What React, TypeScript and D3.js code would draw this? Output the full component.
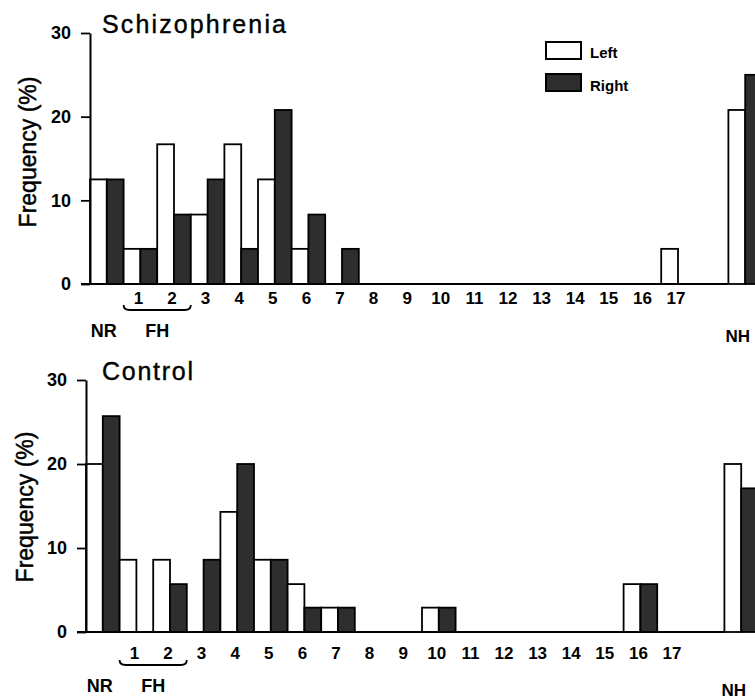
import React, { useEffect, useRef } from 'react'
import * as d3 from 'd3'

// categories along the x axis; "gap" is an empty slot before NH
const categories = ['NR', '1', '2', '3', '4', '5', '6', '7', '8', '9', '10', '11', '12', '13', '14', '15', '16', '17', 'gap', 'NH']
const numberLabels = ['1', '2', '3', '4', '5', '6', '7', '8', '9', '10', '11', '12', '13', '14', '15', '16', '17']
const yTicks = [0, 10, 20, 30]

const schizoLeft = [12.5, 4.2, 16.7, 8.3, 16.7, 12.5, 4.2, 0, 0, 0, 0, 0, 0, 0, 0, 0, 0, 4.2, 0, 20.8]
const schizoRight = [12.5, 4.2, 8.3, 12.5, 4.2, 20.8, 8.3, 4.2, 0, 0, 0, 0, 0, 0, 0, 0, 0, 0, 0, 25]

const controlLeft = [20, 8.6, 8.6, 0, 14.3, 8.6, 5.7, 2.9, 0, 0, 2.9, 0, 0, 0, 0, 0, 5.7, 0, 0, 20]
const controlRight = [25.7, 0, 5.7, 8.6, 20, 8.6, 2.9, 2.9, 0, 0, 2.9, 0, 0, 0, 0, 0, 5.7, 0, 0, 17.1]

const sides = ['Left', 'Right']

const font = '"Liberation Sans", Arial, Helvetica, sans-serif'
const dark = '#2e2e2e'

function Panel(props) {
  const { title, titleWidth, left, right, x0, yBase, yTop, labelY, bracketY, nrY, nhY, ylabelX, ylabelY } = props
  const axisRef = useRef(null)

  const x = d3.scaleBand().domain(categories).range([x0, x0 + 33.6 * categories.length]).padding(0)
  const sub = d3.scaleBand().domain(sides).range([0, x.bandwidth()]).padding(0)
  const y = d3.scaleLinear().domain([0, 30]).range([yBase, yTop])

  useEffect(() => {
    const g = d3.select(axisRef.current)
    g.selectAll('*').remove()
    g.call(d3.axisLeft(y).tickValues(yTicks).tickSize(9).tickSizeOuter(0).tickPadding(10))
    g.select('.domain').attr('stroke-width', 2)
    g.selectAll('.tick line').attr('stroke-width', 1.8)
    g.selectAll('.tick text')
      .style('font-family', font)
      .style('font-size', '18px')
      .style('font-weight', 'bold')
  }, [])

  const bars = []
  categories.forEach((c, i) => {
    if (c === 'gap') return
    const vals = [left[i], right[i]]
    vals.forEach((v, j) => {
      if (!v) return
      bars.push(
        <rect
          key={c + j}
          x={x(c) + sub(sides[j])}
          y={y(v)}
          width={sub.bandwidth()}
          height={y(0) - y(v)}
          fill={j === 0 ? '#fff' : dark}
          stroke="#000"
          strokeWidth={1.8}
        />
      )
    })
  })

  const b1 = x('1')
  const b2 = x('2') + x.bandwidth()

  return (
    <g>
      <text x={102} y={yTop} fontFamily={font} fontSize={25} stroke="#000" strokeWidth={0.4} textLength={titleWidth} lengthAdjust="spacing">{title}</text>
      <text
        transform={`translate(${ylabelX},${ylabelY}) rotate(-90)`}
        textAnchor="middle"
        fontFamily={font}
        fontSize={23}
        stroke="#000"
        strokeWidth={0.5}
      >
        Frequency (%)
      </text>
      {bars}
      <line x1={x0 - 9} x2={x('NH')} y1={y(0)} y2={y(0)} stroke="#000" strokeWidth={2} />
      <g ref={axisRef} transform={`translate(${x0},0)`} />
      {numberLabels.map(l => (
        <text
          key={l}
          x={x(l) + x.bandwidth() / 2 - 2}
          y={labelY}
          textAnchor="middle"
          fontFamily={font}
          fontSize={17}
          fontWeight="bold"
        >
          {l}
        </text>
      ))}
      <path
        d={`M${b1},${bracketY - 5} Q${b1},${bracketY} ${b1 + 6},${bracketY} L${b2 - 6},${bracketY} Q${b2},${bracketY} ${b2},${bracketY - 5}`}
        fill="none"
        stroke="#000"
        strokeWidth={1.8}
      />
      <text x={x('NR') + x.bandwidth() / 2 - 3} y={nrY} textAnchor="middle" fontFamily={font} fontSize={18} fontWeight="bold">NR</text>
      <text x={(b1 + b2) / 2} y={nrY} textAnchor="middle" fontFamily={font} fontSize={18} fontWeight="bold">FH</text>
      <text x={x('NH') - 3} y={nhY} fontFamily={font} fontSize={17} fontWeight="bold">NH</text>
    </g>
  )
}

export default function App() {
  return (
    <svg width={755} height={700} style={{ position: 'absolute', left: 0, top: 0, background: '#fff' }}>
      <Panel
        title="Schizophrenia"
        titleWidth={184}
        left={schizoLeft}
        right={schizoRight}
        x0={90}
        yBase={284}
        yTop={33}
        labelY={304}
        bracketY={310}
        nrY={337}
        nhY={342}
        ylabelX={36}
        ylabelY={152}
      />
      <Panel
        title="Control"
        titleWidth={91}
        left={controlLeft}
        right={controlRight}
        x0={86}
        yBase={632}
        yTop={380}
        labelY={659}
        bracketY={665}
        nrY={692}
        nhY={696}
        ylabelX={33}
        ylabelY={507}
      />
      <g fontFamily={font} fontSize={15} fontWeight="bold">
        <rect x={546} y={42} width={35} height={17} fill="#fff" stroke="#000" strokeWidth={2} />
        <text x={590} y={58}>Left</text>
        <rect x={546} y={74} width={35} height={17} fill={dark} stroke="#000" strokeWidth={2} />
        <text x={590} y={91}>Right</text>
      </g>
    </svg>
  )
}
